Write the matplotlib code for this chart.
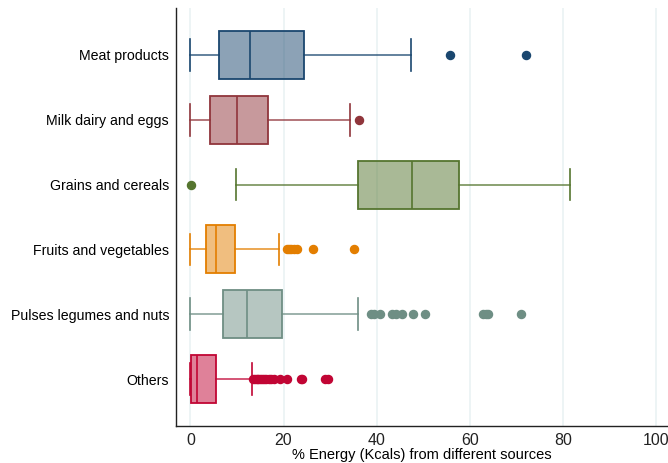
import matplotlib.pyplot as plt
from matplotlib.colors import to_rgba

plt.rcParams['font.family'] = ['Liberation Sans', 'DejaVu Sans']

# Energy share by food source (% of Kcals), one box per source
sources = ["Meat products", "Milk dairy and eggs", "Grains and cereals",
           "Fruits and vegetables", "Pulses legumes and nuts", "Others"]
whislo = [0.0, 0.0, 9.7, 0.0, 0.0, 0.0]
q1 = [6.1, 4.3, 35.9, 3.4, 7.1, 0.2]
med = [12.9, 9.9, 47.6, 5.4, 12.1, 1.5]
q3 = [24.3, 16.7, 57.7, 9.6, 19.6, 5.4]
whishi = [47.4, 34.3, 81.5, 19.0, 36.1, 13.2]
fliers = [
    [55.7, 72.1],
    [36.3],
    [0.1],
    [20.7, 21.2, 21.7, 22.2, 22.8, 26.4, 35.1],
    [38.7, 39.4, 40.8, 43.3, 44.2, 45.4, 47.9, 50.4, 62.9, 63.6, 64.0, 71.1],
    [13.4, 13.8, 14.2, 14.6, 15.0, 15.4, 15.8, 16.3, 16.8, 17.3, 18.0,
     19.2, 20.7, 23.7, 24.0, 28.9, 29.6],
]

# Stata s2color palette
colors = ["#1a476f", "#90353b", "#55752f", "#e37e00", "#6e8e84", "#c10534"]

fig = plt.figure(figsize=(6.68, 4.63), dpi=100)
ax = fig.add_axes([176 / 668, 1 - 426 / 463, 1 - 176 / 668, 418 / 463])

for i, name in enumerate(sources):
    stats = [dict(label=name, whislo=whislo[i], q1=q1[i], med=med[i],
                  q3=q3[i], whishi=whishi[i], fliers=fliers[i])]
    c = colors[i]
    ax.bxp(stats, positions=[i + 1], vert=False, widths=0.74,
           patch_artist=True, manage_ticks=False,
           boxprops=dict(facecolor=to_rgba(c, 0.5), edgecolor=c, linewidth=1.3),
           medianprops=dict(color=c, linewidth=1.2),
           whiskerprops=dict(color=to_rgba(c, 0.8), linewidth=1.2),
           capprops=dict(color=c, linewidth=1.2),
           capwidths=0.49,
           flierprops=dict(marker="o", markerfacecolor=c, markeredgecolor=c,
                           markersize=5.8, linestyle="none"))

ax.set_yticks(range(1, len(sources) + 1))
ax.set_yticklabels(sources, fontsize=10.2)
ax.set_ylim(6.725, 0.275)
ax.set_xlim(-3.1, 102.6)
ax.set_xticks([0, 20, 40, 60, 80, 100])
ax.tick_params(axis="x", labelsize=11.5, length=0, pad=5, labelcolor="#222222")
ax.tick_params(axis="y", length=0, pad=5)
ax.set_xlabel("% Energy (Kcals) from different sources", fontsize=10.5,
              labelpad=0)

ax.grid(axis="x", color="#eaf2f3", linewidth=1.2)
ax.set_axisbelow(True)
for s in ["top", "right"]:
    ax.spines[s].set_visible(False)
for s in ["left", "bottom"]:
    ax.spines[s].set_color("#222222")
    ax.spines[s].set_linewidth(1.0)

fig.savefig("out.png", dpi=100)
